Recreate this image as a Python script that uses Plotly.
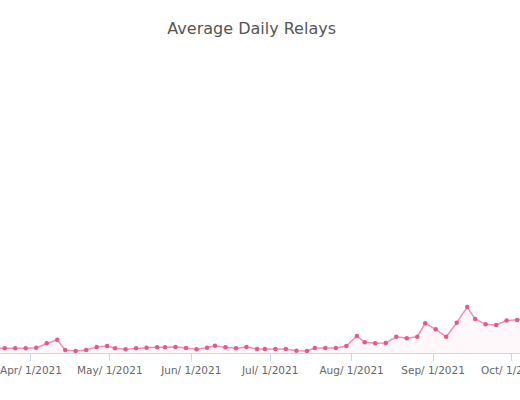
import plotly.graph_objects as go

# sample dates (roughly every 3.8 days)
dates = [
    "2021-03-18", "2021-03-22", "2021-03-26", "2021-03-30", "2021-04-03", "2021-04-07",
    "2021-04-11", "2021-04-14", "2021-04-18", "2021-04-22", "2021-04-26", "2021-04-30",
    "2021-05-03", "2021-05-07", "2021-05-11", "2021-05-15", "2021-05-19", "2021-05-22",
    "2021-05-26", "2021-05-30", "2021-06-03", "2021-06-07", "2021-06-10", "2021-06-14",
    "2021-06-18", "2021-06-22", "2021-06-26", "2021-06-29", "2021-07-03", "2021-07-07",
    "2021-07-11", "2021-07-15", "2021-07-18", "2021-07-22", "2021-07-26", "2021-07-30",
    "2021-08-03", "2021-08-06", "2021-08-10", "2021-08-14", "2021-08-18", "2021-08-22",
    "2021-08-26", "2021-08-29", "2021-09-02", "2021-09-06", "2021-09-10", "2021-09-14",
    "2021-09-17", "2021-09-21", "2021-09-25", "2021-09-29", "2021-10-03", "2021-10-06",
]

avg_relays = [
    4900, 4700, 4700, 4700, 5300, 9700,
    13300, 3000, 2000, 3000, 6000, 7000,
    4700, 3700, 4700, 5300, 5700, 5700,
    6000, 5000, 3700, 5300, 7300, 5700,
    4700, 6000, 4000, 4000, 4000, 4000,
    2300, 2000, 5000, 5000, 5000, 7000,
    17000, 10700, 9700, 10000, 16300, 14700,
    16300, 29700, 23700, 16300, 30300, 46000,
    34000, 28700, 28000, 32500, 33000, 34000,
]

fig = go.Figure()
fig.add_trace(go.Scatter(
    x=dates,
    y=avg_relays,
    mode="lines+markers",
    line=dict(color="#f48fb1", width=1.5),
    marker=dict(color="#e8578a", size=4.5),
    fill="tozeroy",
    fillcolor="rgba(236,120,170,0.05)",
    hoverinfo="x+y",
))

fig.update_layout(
    width=520,
    height=400,
    margin=dict(l=0, r=0, t=53, b=47, autoexpand=False),
    paper_bgcolor="white",
    plot_bgcolor="white",
    showlegend=False,
    title=dict(
        text="Average Daily Relays",
        x=0.484, xref="paper", xanchor="center",
        y=1 - 28 / 400, yref="container", yanchor="middle",
        font=dict(family="DejaVu Sans", size=16, color="#555555"),
    ),
    font=dict(family="DejaVu Sans", size=10.5, color="#666666"),
)

fig.update_xaxes(
    type="date",
    range=["2021-03-20 05:00", "2021-10-04 02:00"],
    tick0="2021-01-01",
    dtick="M1",
    tickformat="%b/%e/%Y",
    ticklabeloverflow="allow",
    automargin=False,
    showgrid=False,
    zeroline=False,
    showline=True,
    linecolor="#ccd6eb",
    linewidth=1,
    ticks="outside",
    ticklen=7,
    tickcolor="#ccd6eb",
    tickfont=dict(family="DejaVu Sans", size=10.5, color="#666666"),
)

fig.update_yaxes(
    range=[0, 300000],
    showgrid=False,
    zeroline=False,
    showticklabels=False,
    showline=False,
    ticks="",
)

# drop the page's default body margin so the chart sits at the window corner
fig.write_html(
    "out.html",
    config={"displayModeBar": False},
    post_script="document.body.style.margin='0';document.body.style.overflow='hidden';",
)
